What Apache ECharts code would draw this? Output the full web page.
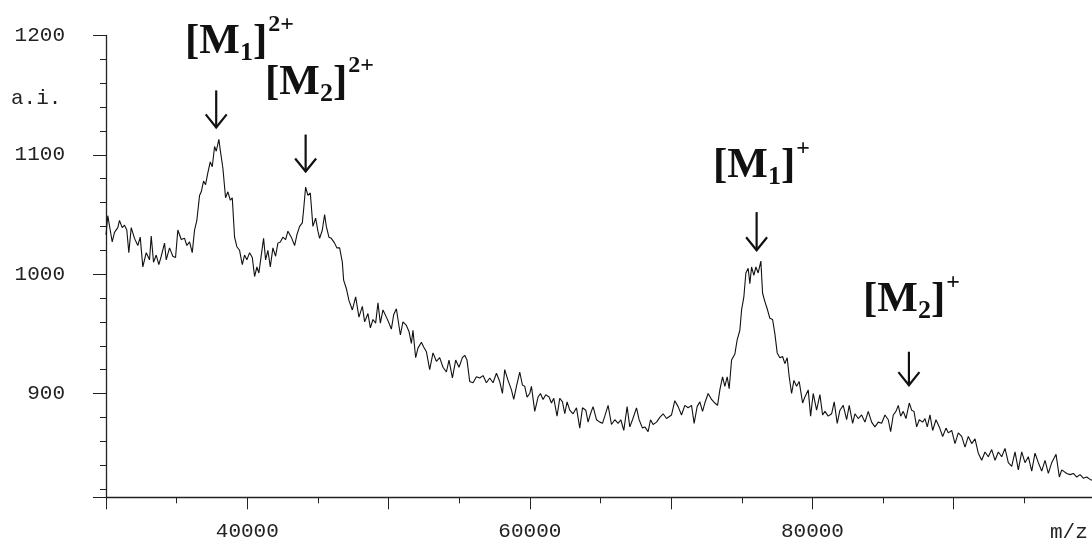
<!DOCTYPE html>
<html>
<head>
<meta charset="utf-8">
<title>m/z spectrum</title>
<script src="https://cdn.jsdelivr.net/npm/echarts@6/dist/echarts.min.js"></script>
<style>
html, body { margin: 0; padding: 0; background: #fff; }
#chart { width: 1092px; height: 541px; }
</style>
</head>
<body>
<div id="chart"></div>
<script>
// spectrum
var mz = [
  30000, 30127, 30297, 30439, 30602, 30836, 30956, 31147, 31310, 31473, 31615, 31785, 32018, 32252, 32422, 32606,
  32847, 33081, 33201, 33364, 33555, 33739, 33909, 34143, 34263, 34497, 34731, 34922, 35085, 35326, 35559, 35722,
  35913, 36105, 36268, 36430, 36622, 36742, 36905, 37047, 37210, 37379, 37521, 37684, 37804, 37988, 38088, 38272,
  38463, 38626, 38796, 38937, 39100, 39263, 39454, 39646, 39808, 39971, 40163, 40354, 40517, 40680, 40821, 40991,
  41154, 41296, 41459, 41629, 41813, 42004, 42167, 42337, 42521, 42712, 42875, 43116, 43350, 43512, 43704, 43895,
  43987, 44129, 44291, 44461, 44645, 44837, 45000, 45120, 45311, 45474, 45594, 45778, 45948, 46182, 46345, 46536,
  46727, 46819, 47011, 47195, 47436, 47670, 47903, 48144, 48307, 48541, 48711, 48895, 49086, 49249, 49419, 49603,
  49844, 50028, 50198, 50361, 50552, 50835, 51019, 51260, 51444, 51614, 51727, 51918, 52081, 52322, 52485, 52677,
  52910, 53144, 53385, 53618, 53852, 54093, 54277, 54518, 54751, 54985, 55226, 55389, 55552, 55743, 55977, 56218,
  56451, 56685, 56926, 57160, 57393, 57634, 57868, 58059, 58222, 58455, 58696, 58859, 59050, 59284, 59475, 59638,
  59801, 59992, 60113, 60346, 60580, 60750, 60934, 61125, 61359, 61529, 61692, 61925, 62117, 62308, 62471, 62634,
  62825, 63059, 63300, 63533, 63725, 63958, 64121, 64291, 64475, 64716, 64949, 65141, 65304, 65537, 65778, 66012,
  66245, 66437, 66649, 66883, 67074, 67265, 67548, 67733, 67973, 68136, 68370, 68540, 68724, 68965, 69198, 69432,
  69673, 70027, 70261, 70494, 70735, 70969, 71203, 71443, 71627, 71840, 72031, 72222, 72385, 72619, 72860, 73093,
  73285, 73448, 73639, 73802, 73965, 74107, 74277, 74510, 74673, 74864, 74985, 75148, 75289, 75452, 75572, 75693,
  75855, 75997, 76160, 76351, 76472, 76635, 76798, 76989, 77180, 77343, 77506, 77697, 77888, 78051, 78214, 78356,
  78526, 78689, 78880, 79064, 79305, 79468, 79702, 79872, 80055, 80296, 80530, 80721, 80884, 81118, 81358, 81542,
  81755, 81946, 82180, 82421, 82605, 82846, 83009, 83242, 83483, 83717, 83950, 84191, 84425, 84659, 84899, 85133,
  85367, 85537, 85721, 85912, 86075, 86245, 86429, 86620, 86854, 87024, 87187, 87378, 87562, 87803, 87966, 88129,
  88320, 88511, 88745, 88979, 89219, 89453, 89616, 89857, 90091, 90324, 90565, 90799, 91032, 91273, 91507, 91740,
  91981, 92215, 92449, 92689, 92923, 93157, 93397, 93631, 93865, 94105, 94339, 94573, 94813, 95047, 95281, 95521,
  95755, 95989, 96229, 96463, 96697, 96937, 97242, 97476, 97646, 98000, 98234, 98468, 98709, 98942, 99176, 99417,
  99651, 99863
];
var intensity = [
  1033, 1049, 1037, 1027, 1035, 1039, 1045, 1039, 1041, 1037, 1018, 1039, 1030, 1024, 1031, 1006,
  1018, 1012, 1032, 1010, 1016, 1008, 1015, 1026, 1012, 1022, 1015, 1014, 1037, 1029, 1030, 1024,
  1027, 1018, 1037, 1045, 1066, 1069, 1078, 1075, 1085, 1094, 1090, 1107, 1103, 1113, 1104, 1089,
  1064, 1069, 1062, 1064, 1031, 1023, 1020, 1008, 1016, 1012, 1018, 1014, 998, 1006, 1001, 1016,
  1030, 1012, 1020, 1006, 1022, 1015, 1026, 1027, 1031, 1029, 1036, 1031, 1024, 1033, 1040, 1043,
  1054, 1073, 1066, 1068, 1040, 1047, 1036, 1030, 1037, 1050, 1040, 1031, 1030, 1026, 1022, 1022,
  1010, 995, 988, 978, 970, 981, 964, 973, 960, 967, 955, 962, 959, 976, 959, 970,
  964, 959, 954, 966, 971, 949, 960, 957, 952, 942, 953, 930, 938, 943, 939, 935,
  920, 934, 927, 930, 922, 918, 928, 913, 928, 922, 930, 932, 928, 910, 909, 914,
  913, 915, 909, 913, 909, 917, 910, 900, 920, 911, 903, 895, 906, 918, 907, 906,
  897, 900, 906, 885, 897, 900, 895, 899, 897, 892, 896, 881, 896, 893, 883, 893,
  886, 883, 888, 871, 888, 886, 876, 883, 889, 878, 876, 875, 881, 890, 874, 878,
  875, 878, 869, 889, 872, 878, 888, 878, 871, 872, 868, 878, 874, 876, 880, 883,
  879, 882, 894, 889, 882, 890, 888, 890, 875, 889, 893, 885, 892, 900, 895, 892,
  890, 903, 914, 906, 914, 904, 928, 933, 945, 953, 970, 981, 1001, 1005, 992, 1006,
  999, 1006, 1001, 1011, 984, 977, 971, 963, 962, 950, 934, 930, 931, 925, 930, 914,
  900, 911, 906, 910, 892, 897, 903, 881, 900, 886, 899, 882, 885, 881, 883, 893,
  875, 886, 890, 878, 890, 875, 883, 879, 882, 876, 885, 876, 872, 876, 875, 882,
  878, 868, 882, 885, 890, 881, 885, 879, 892, 886, 885, 872, 878, 876, 879, 872,
  882, 869, 878, 872, 864, 871, 867, 869, 858, 867, 864, 855, 864, 858, 862, 850,
  844, 851, 847, 853, 844, 851, 847, 854, 842, 839, 851, 836, 851, 842, 847, 835,
  850, 842, 835, 844, 833, 842, 849, 830, 836, 833, 832, 833, 830, 832, 829, 830,
  828, 827
];

// tick labels
var xLabels = [40000, 60000, 80000];
var yLabels = [900, 1000, 1100, 1200];

// peak annotations: ion index, charge, m/z of the arrow, arrow from/to intensity
var peakIndex = ['1', '2', '1', '2'];
var peakCharge = ['2+', '2+', '+', '+'];
var peakMz = [37800, 44130, 76050, 86830];
var arrowFrom = [1154, 1117, 1052, 935];
var arrowTo = [1123, 1086, 1020, 907];

// where each label starts (left x, baseline y), pixels
var labelPos = [[185, 57], [265, 98], [713, 181], [863, 315]];

var monoFont = '"Liberation Mono", "DejaVu Sans Mono", monospace';
var serifFont = '"Liberation Serif", "DejaVu Serif", serif';
var ink = '#111';

var chart = echarts.init(document.getElementById('chart'));

var option = {
  animation: false,
  backgroundColor: '#fff',
  grid: { left: 106, right: -3, top: 35.5, bottom: 43.7, outerBoundsMode: 'none' },
  xAxis: {
    type: 'value',
    min: 30000,
    max: 100000,
    interval: 10000,
    axisLine: { lineStyle: { color: '#222', width: 1.3 } },
    axisTick: { length: 12, lineStyle: { color: '#222', width: 1 } },
    minorTick: { show: true, splitNumber: 2, length: 6, lineStyle: { color: '#222', width: 1 } },
    splitLine: { show: false },
    axisLabel: {
      margin: 24,
      fontFamily: monoFont,
      fontSize: 21,
      color: '#222',
      formatter: function (v) { return xLabels.indexOf(v) >= 0 ? String(v) : ''; }
    }
  },
  yAxis: {
    type: 'value',
    min: 813,
    max: 1200,
    minInterval: 100,
    maxInterval: 100,
    axisLine: { show: true, lineStyle: { color: '#222', width: 1.3 } },
    axisTick: { show: true, length: 13, lineStyle: { color: '#222', width: 1 } },
    minorTick: { show: true, splitNumber: 5, length: 6, lineStyle: { color: '#222', width: 1 } },
    splitLine: { show: false },
    axisLabel: {
      margin: 41,
      fontFamily: monoFont,
      fontSize: 21,
      color: '#222',
      formatter: function (v) { return yLabels.indexOf(v) >= 0 ? String(v) : ''; }
    }
  },
  series: [
    {
      type: 'line',
      data: mz.map(function (m, i) { return [m, intensity[i]]; }),
      symbol: 'none',
      lineStyle: { color: ink, width: 1.1 }
    }
  ]
};

chart.setOption(option);

// annotations: arrows placed through the axes, labels built from pieces
var measure = document.createElement('canvas').getContext('2d');
function textWidth(txt, font) {
  measure.font = font;
  return measure.measureText(txt).width;
}

var bigSize = 43, subSize = 26, supSize = 24;
var bigFont = 'bold ' + bigSize + 'px ' + serifFont;
var subFont = 'bold ' + subSize + 'px ' + serifFont;
var supFont = 'bold ' + supSize + 'px ' + serifFont;

function piece(txt, x, baseline, size, font) {
  return {
    type: 'text',
    x: x,
    y: baseline - 0.34 * size,
    style: {
      text: txt,
      font: font,
      fill: ink,
      align: 'left',
      verticalAlign: 'middle'
    }
  };
}

var graphics = [];
peakMz.forEach(function (m, i) {
  var top = chart.convertToPixel({ gridIndex: 0 }, [m, arrowFrom[i]]);
  var bot = chart.convertToPixel({ gridIndex: 0 }, [m, arrowTo[i]]);
  graphics.push({
    type: 'polyline',
    shape: { points: [[top[0], top[1]], [bot[0], bot[1]]] },
    style: { stroke: ink, lineWidth: 2.2, fill: null }
  });
  graphics.push({
    type: 'polyline',
    shape: { points: [[bot[0] - 10.5, bot[1] - 13], [bot[0], bot[1]], [bot[0] + 10.5, bot[1] - 13]] },
    style: { stroke: ink, lineWidth: 2.2, fill: null, lineJoin: 'miter' }
  });

  var x = labelPos[i][0], base = labelPos[i][1];
  graphics.push(piece('[M', x, base, bigSize, bigFont));
  x += textWidth('[M', bigFont);
  graphics.push(piece(peakIndex[i], x, base + 5, subSize, subFont));
  x += textWidth(peakIndex[i], subFont);
  graphics.push(piece(']', x, base, bigSize, bigFont));
  x += textWidth(']', bigFont) + 1;
  graphics.push(piece(peakCharge[i], x, base - 24, supSize, supFont));
});

// axis unit captions
graphics.push({
  type: 'text', x: 11, y: 98,
  style: { text: 'a.i.', font: '21px ' + monoFont, fill: '#222', align: 'left', verticalAlign: 'middle' }
});
graphics.push({
  type: 'text', x: 1050, y: 532,
  style: { text: 'm/z', font: '21px ' + monoFont, fill: '#222', align: 'left', verticalAlign: 'middle' }
});

chart.setOption({ graphic: graphics });
</script>
</body>
</html>
